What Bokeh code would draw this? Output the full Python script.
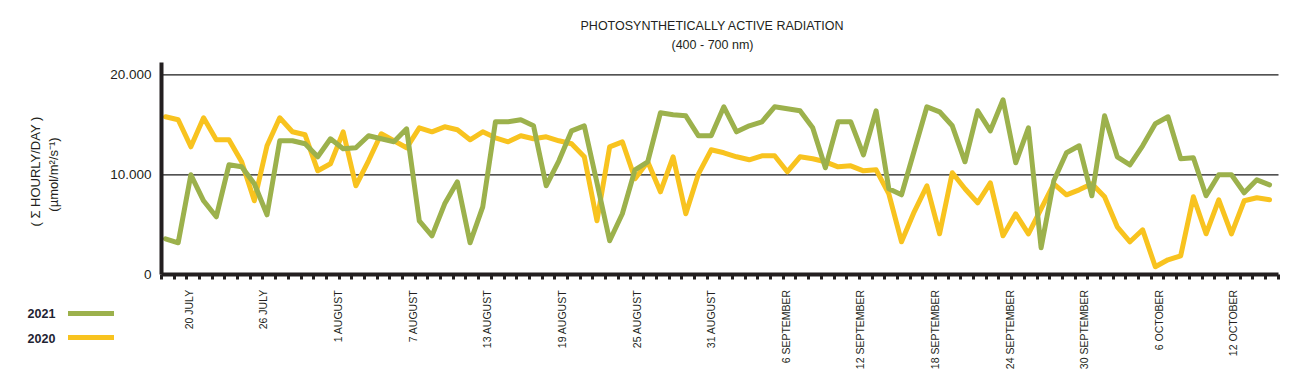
import math
from bokeh.plotting import figure
from bokeh.models import (Range1d, FixedTicker, Label, Legend, LegendItem,
                          ColumnDataSource)
from bokeh.embed import file_html
from bokeh.resources import INLINE

# ---- data (daily sums, µmol/m²/s⁻¹), day 0 = first day of the series ----
days = list(range(88))
par_2021 = [3600, 3200, 10000, 7400, 5800, 11000, 10800, 9100, 6000, 13400,
            13400, 13100, 11800, 13600, 12600, 12700, 13900, 13600, 13300, 14600,
            5400, 3900, 7100, 9300, 3200, 6800, 15300, 15300, 15500, 14900,
            8900, 11400, 14400, 14900, 9200, 3400, 6100, 10500, 11300, 16200,
            16000, 15900, 13900, 13900, 16800, 14300, 14900, 15300, 16800, 16600,
            16400, 14700, 10700, 15300, 15300, 12000, 16400, 8600, 8000, 12400,
            16800, 16300, 14900, 11300, 16400, 14400, 17500, 11200, 14700, 2700,
            9400, 12200, 12900, 7900, 15900, 11800, 11000, 12900, 15100, 15800,
            11600, 11700, 7900, 10000, 10000, 8200, 9500, 9000]
par_2020 = [15800, 15500, 12800, 15700, 13500, 13500, 11300, 7400, 12900, 15700,
            14300, 14000, 10400, 11100, 14300, 8900, 11400, 14100, 13400, 12700,
            14700, 14300, 14800, 14500, 13500, 14300, 13700, 13300, 13900, 13600,
            13800, 13400, 13100, 11800, 5400, 12800, 13300, 9600, 11300, 8300,
            11800, 6100, 10100, 12500, 12200, 11800, 11500, 11900, 11900, 10300,
            11800, 11600, 11300, 10800, 10900, 10400, 10500, 8100, 3300, 6300,
            8900, 4100, 10200, 8600, 7200, 9200, 3900, 6100, 4100, 6600,
            9100, 8000, 8500, 9100, 7800, 4800, 3300, 4500, 800, 1500,
            1900, 7800, 4100, 7500, 4100, 7400, 7700, 7500]
tick_labels = ["20 JULY", "26 JULY", "1 AUGUST", "7 AUGUST", "13 AUGUST",
               "19 AUGUST", "25 AUGUST", "31 AUGUST", "6 SEPTEMBER",
               "12 SEPTEMBER", "18 SEPTEMBER", "24 SEPTEMBER", "30 SEPTEMBER",
               "6 OCTOBER", "12 OCTOBER"]
y_ticks = [0, 10000, 20000]
y_tick_labels = ["0", "10.000", "20.000"]
series_names = ["2021", "2020"]
title_lines = ["PHOTOSYNTHETICALLY ACTIVE RADIATION", "(400 - 700 nm)"]
y_title_lines = ["( \u03a3 HOURLY/DAY )", "(\u00b5mol/m\u00b2/s\u207b\u00b9)"]

GREEN = "#9cb14c"
YELLOW = "#f8c31f"
INK = "#231f20"
FONT = "Liberation Sans"

# ---- layout: the frame fills the canvas; axes are pinned inside it ----
W, H = 1291, 380
X0_PX, DX_PX = 165.0, 12.69        # pixel of day 0, pixels per day
Y0_PX, DY_PX = 274.3, 100.0 / 10000  # pixel of value 0, pixels per unit


def cx(px):
    return (px - X0_PX) / DX_PX


def cy(py):
    return (Y0_PX - py) / DY_PX


src = ColumnDataSource(dict(day=days, y2021=par_2021, y2020=par_2020))

p = figure(width=W, height=H, output_backend="svg", toolbar_location=None,
           x_range=Range1d(cx(0), cx(W)), y_range=Range1d(cy(H), cy(0)),
           min_border=0, min_border_left=0, min_border_right=0,
           min_border_top=0, min_border_bottom=0)
p.outline_line_color = None
p.background_fill_color = "white"
p.border_fill_color = "white"
p.grid.visible = False

x_lo, x_hi = cx(161), cx(1278)
y_top = cy(62)

# horizontal grid lines (10.000 / 20.000) between the axis ends
grid_vals = [v for v in y_ticks if v > 0]
p.segment(x0=[x_lo] * len(grid_vals), y0=grid_vals,
          x1=[x_hi] * len(grid_vals), y1=grid_vals,
          line_color="#1a1a1a", line_width=1.2)

# lines
r20 = p.line("day", "y2020", source=src, line_color=YELLOW, line_width=5,
             line_join="round", line_cap="round")
r21 = p.line("day", "y2021", source=src, line_color=GREEN, line_width=5,
             line_join="round", line_cap="round")

# y axis
ya = p.yaxis[0]
ya.fixed_location = x_lo
ya.bounds = (0, y_top)
ya.ticker = FixedTicker(ticks=y_ticks)
ya.major_label_overrides = {t: s for t, s in zip(y_ticks, y_tick_labels)}
ya.axis_line_width = 4
ya.axis_line_color = INK
ya.major_tick_in = 0
ya.major_tick_out = 0
ya.minor_tick_line_color = None
ya.major_label_standoff = 10
ya.major_label_text_font = FONT
ya.major_label_text_font_size = "13.5px"
ya.major_label_text_color = INK

# x axis
label_pos = [1.84 + 5.88 * k for k in range(len(tick_labels))]
xa = p.xaxis[0]
xa.fixed_location = 0
xa.bounds = (x_lo, x_hi)
xa.ticker = FixedTicker(ticks=label_pos,
                        minor_ticks=[k - 0.32 for k in range(89)])
xa.major_label_overrides = {pos: s for pos, s in zip(label_pos, tick_labels)}
xa.major_label_orientation = math.pi / 2
xa.axis_line_width = 4
xa.axis_line_color = INK
xa.major_tick_in = 0
xa.major_tick_out = 0
xa.minor_tick_in = 0
xa.minor_tick_out = 5
xa.minor_tick_line_width = 3
xa.minor_tick_line_color = INK
xa.major_label_standoff = 10
xa.major_label_text_font = FONT
xa.major_label_text_font_size = "10.5px"
xa.major_label_text_color = INK


def add_text(txt, px, py, size, angle=0.0, style="normal", color=INK):
    p.add_layout(Label(x=cx(px), y=cy(py), text=txt, angle=angle,
                       text_align="center", text_baseline="middle",
                       text_font=FONT, text_font_size=size,
                       text_font_style=style, text_color=color))


# titles
add_text(title_lines[0], 712, 25, "12.5px")
add_text(title_lines[1], 712, 44, "12.5px")

# y axis title (two rotated lines)
add_text(y_title_lines[0], 35, 171, "13px", angle=math.pi / 2)
add_text(y_title_lines[1], 53, 174, "13px", angle=math.pi / 2)

# legend: swatches via Legend, year texts to their left
legend = Legend(items=[LegendItem(label=" ", renderers=[r21]),
                       LegendItem(label=" ", renderers=[r20])],
                location=(68, H - 347), orientation="vertical",
                glyph_width=46, glyph_height=20, label_width=0, label_height=20,
                label_standoff=0, spacing=4, padding=0, margin=0,
                border_line_color=None, background_fill_alpha=0,
                label_text_font_size="1px")
p.add_layout(legend)
add_text(series_names[0], 41, 313, "12.5px", style="bold", color="#1f2433")
add_text(series_names[1], 41, 338, "12.5px", style="bold", color="#1f2433")

open("out.html", "w").write(file_html(p, INLINE))
